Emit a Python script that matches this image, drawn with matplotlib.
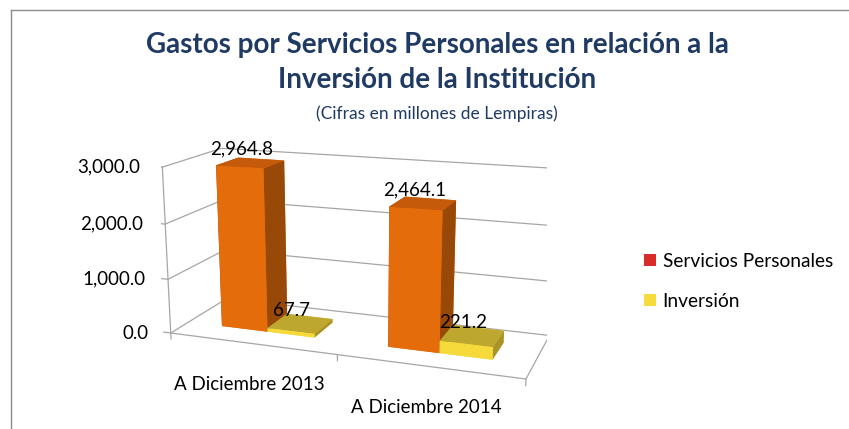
import matplotlib
matplotlib.use("Agg")
import matplotlib.pyplot as plt
from matplotlib.lines import Line2D
from matplotlib.patches import Patch
from matplotlib.transforms import offset_copy

# datos (millones de Lempiras)
categorias = ["A Diciembre 2013", "A Diciembre 2014"]
series = ["Servicios Personales", "Inversión"]
servicios = [2964.8, 2464.1]
inversion = [67.7, 221.2]
ticks_y = [0, 1000, 2000, 3000]

# colores: frente, lado, arriba
c_naranja = ("#E46C0A", "#984807", "#C55A0B")
c_amarillo = ("#F6DA3C", "#A8922A", "#BDA72E")
c_leyenda = ["#D92B2A", "#F5DC3C"]
gris = "#A6A6A6"
azul = "#1F3A63"
fuente = "Lato"

fig = plt.figure(figsize=(8.49, 4.29), dpi=100)
ax = fig.add_axes([0.0922, -0.0516, 0.65, 0.9], projection="3d", computed_zorder=False)
ax.set_xlim(0, 2)
ax.set_ylim(0, 1)
ax.set_zlim(0, 3000)
ax.view_init(elev=14.92, azim=-70.07)
ax.set_proj_type("persp", focal_length=0.485)
ax.set_box_aspect((2, 0.6814, 0.9396), zoom=1.065)
ax.set_axis_off()


def desplazado(dx, dy):
    return offset_copy(ax.transData, fig=fig, x=dx, y=dy, units="dots")


# paredes y piso
for v in ticks_y:
    ax.plot([0, 0, 2], [0, 1, 1], [v, v, v], color=gris, lw=0.9, zorder=1)
ax.plot([0, 2, 2], [0, 0, 1], [0, 0, 0], color=gris, lw=0.9, zorder=1)
ax.plot([0, 0], [0, 0], [0, 3000], color=gris, lw=0.9, zorder=1)
for v in ticks_y:
    ax.plot([0, -0.045], [0, 0], [v, v], color=gris, lw=0.9, zorder=1)
    ax.text(0, 0, v, f"{v:,.1f}", ha="right", va="center", fontsize=13.5,
            family=fuente, transform=desplazado(-22, 0), zorder=10)
for i in range(len(categorias) + 1):
    ax.plot([i, i], [0, 0], [0, -110], color=gris, lw=0.9, zorder=1)

# barras (ancho de separacion 150%)
ancho = 1 / 3.5
y0, prof = 0.3, 0.4
for i in range(len(categorias)):
    x0 = i + ancho * 0.75
    for j, (vals, col) in enumerate([(servicios, c_naranja), (inversion, c_amarillo)]):
        f, s, t = col
        # orden de caras: -z, +z, -y, +y, -x, +x
        ax.bar3d(x0 + j * ancho, y0, 0, ancho, prof, vals[i],
                 color=[f, t, f, f, s, s], shade=False, zorder=3 + 2 * i + j)
        ax.text(x0 + j * ancho + ancho / 2, y0 + prof / 2, vals[i], f"{vals[i]:,.1f}",
                ha="center", va="bottom", fontsize=13.5, family=fuente,
                transform=desplazado(-9, 5), zorder=10)
    ax.text(i + 0.5, 0, 0, categorias[i], ha="center", va="center",
            fontsize=13.5, family=fuente, transform=desplazado(-2, -41), zorder=10)

# titulo
fig.text(0.515, 0.895, "Gastos por Servicios Personales en relación a la",
         ha="center", va="center", fontsize=20, fontweight="bold", color=azul, family=fuente)
fig.text(0.515, 0.813, "Inversión de la Institución",
         ha="center", va="center", fontsize=20, fontweight="bold", color=azul, family=fuente)
fig.text(0.515, 0.736, "(Cifras en millones de Lempiras)",
         ha="center", va="center", fontsize=12.5, color=azul, family=fuente)

# leyenda
handles = [Patch(facecolor=c, edgecolor="none") for c in c_leyenda]
fig.legend(handles, series, loc="upper left", bbox_to_anchor=(644 / 849, 1 - 253 / 429),
           frameon=False, prop={"family": fuente, "size": 13.8}, borderpad=0, borderaxespad=0,
           handlelength=0.62, handleheight=0.62, handletextpad=0.35, labelspacing=1.2)

# marco
fig.add_artist(Line2D([11 / 849, 11 / 849], [0, 1 - 10 / 429], color="#8C8C8C", lw=1))
fig.add_artist(Line2D([11 / 849, 1], [1 - 10 / 429, 1 - 10 / 429], color="#8C8C8C", lw=1))

fig.savefig("out.png", dpi=100)
